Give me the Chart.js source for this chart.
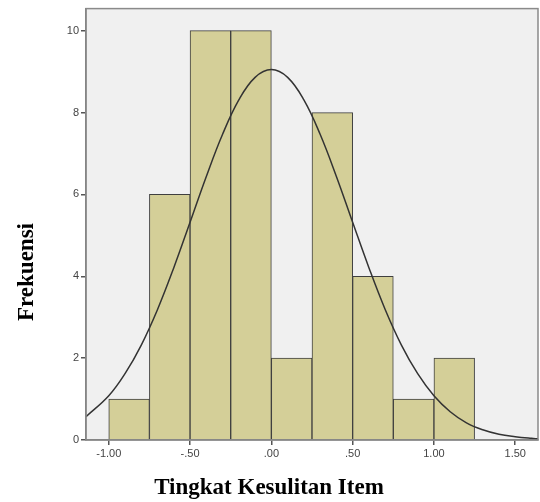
<!DOCTYPE html>
<html>
<head>
<meta charset="utf-8">
<script src="https://cdn.jsdelivr.net/npm/chart.js@4.4.1/dist/chart.umd.min.js"></script>
<style>
  html, body { margin: 0; padding: 0; background: #fff; }
  #wrap { width: 540px; height: 502px; }
</style>
</head>
<body>
<div id="wrap"><canvas id="histChart"></canvas></div>
<script>
// --- data ---
const binCenters = [-0.875, -0.625, -0.375, -0.125, 0.125, 0.375, 0.625, 0.875, 1.125];
const binCounts  = [1, 6, 10, 10, 2, 8, 4, 1, 2];

// normal curve, points
const curveX = [-1.14, -1.0, -0.9, -0.8, -0.7, -0.6, -0.5, -0.4, -0.3, -0.2, -0.1, 0.0,
                0.1, 0.2, 0.3, 0.4, 0.5, 0.6, 0.7, 0.8, 0.9, 1.0, 1.1, 1.2, 1.3, 1.4, 1.5, 1.6, 1.64];
const curveY = [0.57, 1.08, 1.62, 2.32, 3.19, 4.21, 5.32, 6.44, 7.47, 8.31, 8.86, 9.05,
                8.86, 8.31, 7.47, 6.44, 5.32, 4.21, 3.19, 2.32, 1.62, 1.08, 0.69, 0.42, 0.25, 0.14, 0.08, 0.04, 0.03];

const xTickValues = [-1.0, -0.5, 0.0, 0.5, 1.0, 1.5];
const xTickLabels = ["-1.00", "-.50", ".00", ".50", "1.00", "1.50"];
const yTickValues = [0, 2, 4, 6, 8, 10];

const xTitle = 'Tingkat Kesulitan Item';
const yTitle = 'Frekuensi';

const ctx = document.getElementById('histChart').getContext('2d');

// grey plot background, frame round it, and the two axis titles
const plotFrame = {
    id: 'plotFrame',
    beforeDraw(chart) {
        const a = chart.chartArea;
        const c = chart.ctx;
        c.save();
        c.fillStyle = '#f0f0f0';
        c.fillRect(a.left, a.top, a.right - a.left, a.bottom - a.top);
        c.restore();
    },
    afterDraw(chart) {
        const a = chart.chartArea;
        const c = chart.ctx;
        c.save();
        c.strokeStyle = '#8a8a8a';
        c.lineWidth = 1.5;
        c.strokeRect(a.left, a.top, a.right - a.left, a.bottom - a.top);

        c.fillStyle = '#000';
        c.font = 'bold 23px "Liberation Serif"';
        c.textAlign = 'center';
        c.textBaseline = 'middle';
        c.fillText(xTitle, 269, 488);

        c.translate(27, 272);
        c.rotate(-Math.PI / 2);
        c.fillText(yTitle, 0, 0);
        c.restore();
    }
};

new Chart(ctx, {
    type: 'bar',
    data: {
        datasets: [
            {
                type: 'line',
                data: curveX.map((x, i) => ({ x: x, y: curveY[i] })),
                borderColor: '#333333',
                borderWidth: 1.5,
                pointRadius: 0,
                tension: 0.4,
                fill: false,
                order: 0
            },
            {
                type: 'bar',
                data: binCenters.map((x, i) => ({ x: x, y: binCounts[i] })),
                backgroundColor: '#d4cf98',
                borderColor: '#3f3f3f',
                borderWidth: 1,
                barPercentage: 1.0,
                categoryPercentage: 1.0,
                grouped: false,
                order: 1
            }
        ]
    },
    options: {
        responsive: true,
        maintainAspectRatio: false,
        animation: false,
        layout: { padding: { top: 6, right: 2, left: 0, bottom: 0 } },
        plugins: {
            legend: { display: false },
            tooltip: { enabled: false }
        },
        scales: {
            x: {
                type: 'linear',
                offset: false,
                min: -1.14,
                max: 1.64,
                afterBuildTicks: scale => { scale.ticks = xTickValues.map(v => ({ value: v })); },
                afterFit: scale => { scale.height = 62; },
                grid: { offset: false, drawOnChartArea: false, drawTicks: true, tickLength: 5, color: '#555', lineWidth: 1.5 },
                border: { display: true, color: '#777', width: 1.5 },
                ticks: {
                    padding: 2,
                    color: '#444',
                    font: { family: 'Liberation Sans', size: 11 },
                    callback: (v) => xTickLabels[xTickValues.indexOf(v)]
                }
            },
            y: {
                min: 0,
                max: 10.54,
                afterBuildTicks: scale => { scale.ticks = yTickValues.map(v => ({ value: v })); },
                afterFit: scale => { scale.width = 86; },
                grid: { drawOnChartArea: false, drawTicks: true, tickLength: 5, color: '#555', lineWidth: 1.5 },
                border: { display: true, color: '#777', width: 1.5 },
                ticks: {
                    padding: 2,
                    color: '#444',
                    font: { family: 'Liberation Sans', size: 11 }
                }
            }
        }
    },
    plugins: [plotFrame]
});
</script>
</body>
</html>
